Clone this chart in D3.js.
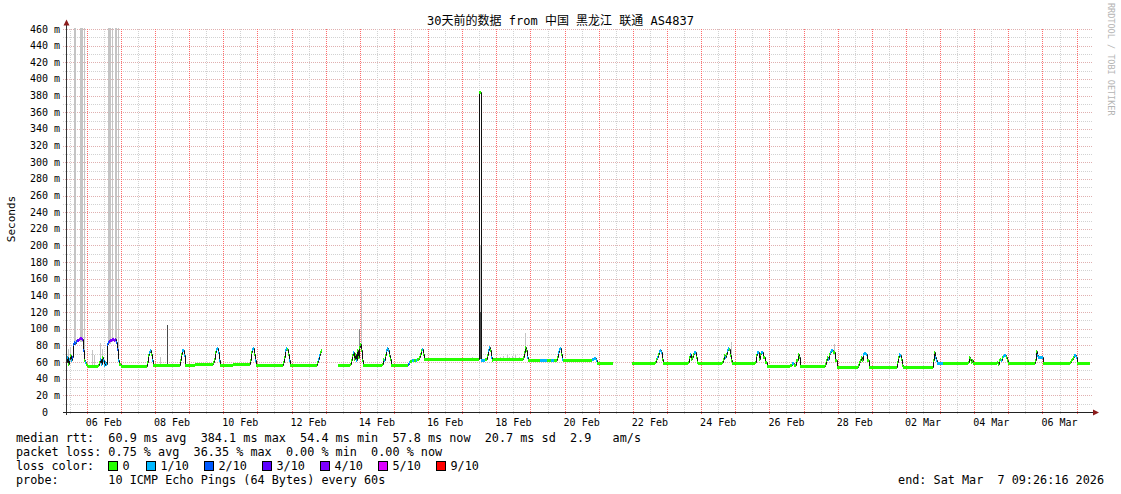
<!DOCTYPE html>
<html><head><meta charset="utf-8">
<script src="https://cdn.jsdelivr.net/npm/d3@7"></script>
<style>
html,body{margin:0;padding:0;background:#fff;}
svg{display:block;}
text{font-family:"DejaVu Sans Mono","Noto Sans CJK SC",monospace;white-space:pre;}
</style></head><body>
<svg id="chart" width="1121" height="494"></svg>
<script>
// ---------------- data ----------------
const title = "30天前的数据 from 中国 黑龙江 联通 AS4837";
const yAxisTitle = "Seconds";
const watermark = "RRDTOOL / TOBI OETIKER";
const startTime = Date.UTC(2026, 1, 5, 9, 26, 16);
const endTime = Date.UTC(2026, 2, 7, 9, 26, 16);
const dayBase = Date.UTC(2026, 1, 1); // day values below are days since 01 Feb 00:00

const yTickValues = [0,20,40,60,80,100,120,140,160,180,200,220,240,260,280,300,320,340,360,380,400,420,440,460];
const xLabelDates = ["2026-02-06","2026-02-08","2026-02-10","2026-02-12","2026-02-14","2026-02-16","2026-02-18",
  "2026-02-20","2026-02-22","2026-02-24","2026-02-26","2026-02-28","2026-03-02","2026-03-04","2026-03-06"];

const lossColors = ["#26ff00","#00b8ff","#0059ff","#5e00ff","#7e00ff","#dd00ff","#ff0000"];
const lossLabels = ["0","1/10","2/10","3/10","4/10","5/10","9/10"];

// median rtt: [day, ms, loss index]; null = no data
const median = [
 [4.393,60,1],[4.42,66,1],[4.45,58,0],[4.48,64,1],[4.51,68,0],[4.54,62,1],[4.57,66,2],
 [4.60,82,2],[4.63,84,2],[4.66,83,2],[4.69,85,2],[4.72,86,3],[4.75,87,3],[4.78,88,4],[4.81,89,4],[4.84,89,4],[4.87,88,3],
 [4.89,74,2],[4.92,62,0],[4.95,60,1],[4.98,58,0],[5.01,57,0],[5.04,55,0],
 [5.33,56,0],[5.36,60,0],[5.39,64,1],[5.42,58,1],[5.45,66,0],[5.48,62,1],[5.51,56,1],[5.54,60,1],[5.57,58,1],
 [5.60,82,2],[5.63,84,2],[5.66,85,3],[5.69,86,4],[5.72,87,4],[5.75,88,4],[5.78,88,4],[5.81,87,4],[5.84,88,3],[5.87,84,2],[5.90,76,2],[5.93,62,1],[5.96,58,0],[5.99,55,0],
 [6.77,60,0],[6.80,68,0],[6.83,72,1],[6.86,75,1],[6.89,70,0],[6.92,62,1],[6.95,56,0],
 [7.73,62,0],[7.76,70,0],[7.79,74,1],[7.82,75,1],[7.85,68,1],[7.88,56,0],
 [8.17,57.5,0],
 [8.70,60,0],[8.73,64,0],[8.76,72,0],[8.79,76,1],[8.82,77,1],[8.85,72,1],[8.88,62,1],[8.91,56.5,0],
 [9.30,57.5,0],
 [9.78,62,0],[9.81,72,0],[9.84,76,1],[9.87,77,1],[9.90,70,0],[9.93,62,1],[9.96,57,0],
 [10.75,60,0],[10.78,66,0],[10.81,74,1],[10.84,77,1],[10.87,76,0],[10.90,70,0],[10.93,62,1],[10.96,56,0],
 [11.75,60,0],[11.78,64,1],[11.81,68,1],[11.84,72,0],[11.87,75,0],[11.90,null,0],
 [12.36,57,0],[12.71,58,0],[12.74,62,0],[12.77,68,0],[12.80,72,1],[12.83,64,0],[12.86,70,0],[12.89,62,1],[12.92,74,0],[12.95,66,0],[12.98,78,0],[13.01,82,0],[13.04,74,0],[13.07,62,0],[13.10,56,0],
 [13.65,58,0],[13.68,64,0],[13.71,62,1],[13.74,68,0],[13.77,74,1],[13.80,77,1],[13.83,74,1],[13.86,68,0],[13.89,64,0],[13.92,56,0],
 [14.41,58,2],[14.44,60,1],[14.47,61,0],[14.53,62,1],[14.59,62,0],[14.65,63,1],[14.68,64,0],[14.74,66,0],[14.77,70,0],[14.80,74,0],[14.83,76,1],[14.86,70,0],[14.89,63.5,0],
 [16.50,384,0],[16.56,63,1],[16.66,64,0],[16.72,68,0],[16.75,74,1],[16.78,78,1],[16.81,74,0],[16.84,66,1],[16.87,62,0],[16.90,63.5,0],
 [17.78,66,0],[17.81,72,0],[17.84,78,0],[17.87,74,0],[17.90,66,1],[17.93,63,0],
 [18.28,63,1],[18.49,63,0],[18.60,63,1],[18.69,63,0],
 [18.78,66,0],[18.81,72,1],[18.84,76,1],[18.87,77,1],[18.90,70,0],[18.93,64,1],[18.96,62.5,0],
 [19.80,64,1],[19.86,65,1],[19.92,62,1],[19.95,58.5,0],[20.42,null,0],
 [20.97,58.5,0],
 [21.65,60,0],[21.68,64,0],[21.71,66,1],[21.74,70,0],[21.77,73,1],[21.80,75,1],[21.83,72,1],[21.86,64,0],[21.89,58.5,0],
 [22.61,60,0],[22.64,66,0],[22.67,70,1],[22.70,64,0],[22.73,66,0],[22.76,70,0],[22.79,72,1],[22.82,72,1],[22.85,66,0],[22.88,60,0],[22.91,58.5,0],
 [23.61,60,0],[23.64,64,0],[23.67,68,0],[23.70,66,1],[23.73,70,0],[23.76,74,1],[23.79,77,1],[23.82,76,0],[23.85,68,0],[23.88,62,0],[23.91,58.5,0],
 [24.58,60,0],[24.61,68,0],[24.64,72,1],[24.67,72,1],[24.70,64,0],[24.73,70,0],[24.76,72,1],[24.79,72,1],[24.82,66,0],[24.88,60,0],[24.93,55,0],
 [25.60,57,0],[25.66,59,1],[25.72,57,0],[25.78,62,0],[25.84,70,0],[25.87,66,0],[25.90,55,0],
 [26.63,58,0],[26.66,62,0],[26.69,66,0],[26.72,64,1],[26.75,70,0],[26.78,72,1],[26.81,75,1],[26.84,75,1],[26.87,72,0],[26.93,62,0],[26.98,54.5,0],
 [27.59,56,0],[27.62,60,0],[27.65,62,0],[27.68,66,0],[27.71,62,0],[27.74,70,1],[27.77,71,1],[27.80,71,1],[27.83,70,1],[27.86,62,0],[27.92,54.5,0],
 [28.73,60,0],[28.76,66,0],[28.79,70,1],[28.82,68,1],[28.85,64,0],[28.88,56,0],[28.91,54.5,0],
 [29.79,62,0],[29.82,72,0],[29.85,66,1],[29.88,62,1],[29.91,59,1],[30.08,58.5,0],
 [30.81,60,0],[30.84,66,0],[30.87,64,0],[30.90,60,0],[30.93,62,0],[30.96,58.5,0],
 [31.66,60,0],[31.69,58,0],[31.72,62,0],[31.75,64,0],[31.78,62,1],[31.81,66,0],[31.84,67,1],[31.87,68,1],[31.90,68,1],[31.93,66,0],[31.96,62,0],[31.99,58.5,0],
 [32.78,62,0],[32.81,73,0],[32.84,68,1],[32.87,66,1],[32.99,66,1],[33.01,58.5,0],
 [33.80,60,0],[33.83,62,0],[33.86,64,0],[33.89,66,0],[33.92,68,1],[33.95,69,1],[33.98,66,1],[34.01,58.5,0]
];

// smoke (ping spread): [day, low ms, high ms, shade]
const smoke = [
 [4.45,58,76,0],[4.51,60,78,0],
 [4.627,80,480,0],[4.657,80,480,0],[4.803,84,480,0],[4.832,84,480,0],[4.862,84,480,0],[4.920,62,480,0],
 [5.155,56,74,0],[5.213,56,68,0],[5.389,58,83,0],[5.447,60,76,0],
 [5.623,80,480,0],[5.653,82,480,0],[5.682,82,480,0],[5.740,84,480,0],[5.828,84,480,0],[5.858,84,480,0],[5.916,62,480,0],
 [7.146,56,66,0],[7.352,57,104,2],
 [12.98,64,100,1],[13.03,76,148,0],
 [15.85,63,65,0],[16.11,63,65,0],[16.29,63,66,0],
 [16.52,120,200,0],[16.55,120,200,0],[16.52,64,120,2],[16.55,64,120,2],
 [17.10,63,66,0],[17.19,63,67,0],[17.31,63,68,0],[17.37,63,66,0],[17.46,63,67,0],[17.55,63,68,0],[17.66,63,66,0],
 [17.84,70,95,0],
 [23.87,66,84,0],[26.89,68,82,0]
];
const smokeShades = ["#c4c4c4","#8c8c8c","#4a4a4a"];

const statLine1 = "median rtt:  60.9 ms avg  384.1 ms max  54.4 ms min  57.8 ms now  20.7 ms sd  2.9   am/s";
const statLine2 = "packet loss: 0.75 % avg  36.35 % max  0.00 % min  0.00 % now";
const statLine3 = "loss color:";
const statLine4 = "probe:       10 ICMP Echo Pings (64 Bytes) every 60s";
const endLabel = "end: Sat Mar  7 09:26:16 2026";

// ---------------- drawing ----------------
const svg = d3.select("#chart");
const X0 = 66, X1 = 1090, Y0 = 412, Y1 = 29;
const x = d3.scaleUtc().domain([new Date(startTime), new Date(endTime)]).range([X0, X1]);
const y = d3.scaleLinear().domain([0, 460]).range([Y0, Y1]);
const toDate = d => new Date(dayBase + d * 86400000);
const px = v => Math.round(v) + 0.5;

svg.append("rect").attr("width",1121).attr("height",494).attr("fill","#fff");

// grid: minor (12 h / 10 ms) grey dotted, major (day / 20 ms) red dotted
const grid = svg.append("g");
const minorCol = "#d2d2d2", majorCol = "#ff6a6a", majorHCol = "#e0b0b0";
const dayLines = d3.utcDay.range(new Date(startTime), new Date(endTime));
const halfDayLines = d3.utcHour.every(12).range(new Date(startTime), new Date(endTime))
  .filter(t => t.getUTCHours() === 12);
d3.range(10, 461, 10).forEach(v => {
  const major = v % 20 === 0;
  grid.append("line").attr("x1", X0 - 3).attr("x2", X1 + 3)
    .attr("y1", px(y(v))).attr("y2", px(y(v)))
    .attr("stroke", major ? majorHCol : minorCol).attr("stroke-dasharray","1 1");
});
halfDayLines.forEach(t => {
  grid.append("line").attr("x1", px(x(t))).attr("x2", px(x(t)))
    .attr("y1", Y1).attr("y2", Y0 + 3)
    .attr("stroke", minorCol).attr("stroke-dasharray","1 1");
});
dayLines.forEach(t => {
  grid.append("line").attr("x1", px(x(t))).attr("x2", px(x(t)))
    .attr("y1", Y1).attr("y2", Y0 + 3)
    .attr("stroke", majorCol).attr("stroke-dasharray","1 1");
});

// clip
svg.append("clipPath").attr("id","plot").append("rect")
  .attr("x", X0).attr("y", Y1 - 1).attr("width", X1 - X0 + 2).attr("height", Y0 - Y1 + 1);
const plot = svg.append("g").attr("clip-path","url(#plot)");

// smoke
plot.selectAll("rect.smoke").data(smoke).enter().append("rect")
  .attr("class","smoke")
  .attr("x", d => Math.round(x(toDate(d[0]))))
  .attr("width", 1)
  .attr("y", d => Math.round(y(d[2])))
  .attr("height", d => Math.max(1, Math.round(y(d[1])) - Math.round(y(d[2]))))
  .attr("fill", d => smokeShades[d[3]]);

// median black step line
const line = d3.line()
  .defined(d => d[1] !== null)
  .x(d => Math.round(x(toDate(d[0]))) + 0.5)
  .y(d => Math.round(y(d[1])) + 0.5)
  .curve(d3.curveStepAfter);
plot.append("path").datum(median).attr("d", line)
  .attr("fill","none").attr("stroke","#111").attr("stroke-width",1);

// loss-coloured median bars
median.forEach((d, i) => {
  if (d[1] === null) return;
  const xa = Math.round(x(toDate(d[0])));
  const xb = i < median.length - 1 ? Math.round(x(toDate(median[i + 1][0]))) : Math.round(x(new Date(endTime)));
  const yc = Math.round(y(d[1]));
  plot.append("rect").attr("x", xa).attr("width", Math.max(1, xb - xa))
    .attr("y", yc - 1).attr("height", 3).attr("fill", lossColors[d[2]]);
});

// axes
svg.append("line").attr("x1", X0 + 0.5).attr("x2", X0 + 0.5).attr("y1", Y0 + 3).attr("y2", 24)
  .attr("stroke","#333");
svg.append("line").attr("x1", X0 - 3).attr("x2", X1 + 4).attr("y1", Y0 + 0.5).attr("y2", Y0 + 0.5)
  .attr("stroke","#222");
svg.append("path").attr("d", `M${X0 - 2.5},25.5 L${X0 + 3.5},25.5 L${X0 + 0.5},19.5 Z`).attr("fill","#8c1c1c");
svg.append("path").attr("d", `M${X1 + 3},${Y0 - 2.5} L${X1 + 3},${Y0 + 3.5} L${X1 + 9},${Y0 + 0.5} Z`).attr("fill","#8c1c1c");

// y labels
const yl = svg.append("g").attr("font-size","10px").attr("fill","#000");
yTickValues.forEach(v => {
  yl.append("text").attr("x", 48).attr("y", y(v) + 3.5).attr("text-anchor","end").text(v);
  if (v !== 0) yl.append("text").attr("x", 54).attr("y", y(v) + 3.5).text("m");
});

// x labels
const xl = svg.append("g").attr("font-size","10px").attr("fill","#000");
const fmt = d3.utcFormat("%d %b");
xLabelDates.forEach(s => {
  const t = new Date(s + "T12:00:00Z");
  xl.append("text").attr("x", x(t)).attr("y", 425.5).attr("text-anchor","middle").text(fmt(t));
});

// titles
svg.append("text").attr("x", 560.5).attr("y", 25).attr("text-anchor","middle")
  .attr("font-size","12px").text(title);
svg.append("text").attr("transform","translate(15,219) rotate(-90)").attr("text-anchor","middle")
  .attr("font-size","11px").text(yAxisTitle);
svg.append("text").attr("transform","translate(1108,3) rotate(90)")
  .attr("font-size","8.5px").attr("fill","#b4b4b4").text(watermark);

// legend
const lg = svg.append("g").attr("font-size","11.8px").attr("fill","#000");
lg.append("text").attr("x",16).attr("y",442).text(statLine1);
lg.append("text").attr("x",16).attr("y",456).text(statLine2);
lg.append("text").attr("x",16).attr("y",470).text(statLine3);
lg.append("text").attr("x",16).attr("y",484).text(statLine4);
lg.append("text").attr("x",1104).attr("y",484).attr("text-anchor","end").text(endLabel);
const swatchX = [108,146,204,262,320,378,436];
lossColors.forEach((c, i) => {
  lg.append("rect").attr("x", swatchX[i] + 0.5).attr("y", 461.5).attr("width", 9).attr("height", 9)
    .attr("fill", c).attr("stroke","#000");
  lg.append("text").attr("x", swatchX[i] + 14.5).attr("y", 470).text(lossLabels[i]);
});
</script>
</body></html>
